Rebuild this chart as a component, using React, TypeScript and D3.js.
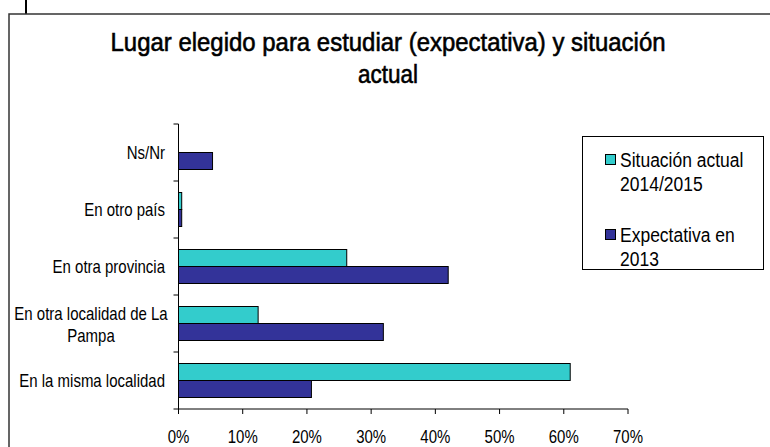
import React from "react";
import * as d3 from "d3";

const categories = ["Ns/Nr", "En otro país", "En otra provincia", "En otra localidad de La Pampa", "En la misma localidad"];
const categoryLines = [["Ns/Nr"], ["En otro país"], ["En otra provincia"], ["En otra localidad de La", "Pampa"], ["En la misma localidad"]];
const situacionActual = [0, 0.5, 26.2, 12.4, 61.0];
const expectativa = [5.3, 0.5, 42.0, 31.9, 20.7];
const seriesNames = [["Situación actual", "2014/2015"], ["Expectativa en", "2013"]];
const seriesColors = ["#33CCCC", "#333399"];
const xTicks = [0, 10, 20, 30, 40, 50, 60, 70];
const titleLines = ["Lugar elegido para estudiar (expectativa) y situación", "actual"];

const FONT = "'Liberation Sans', Arial, sans-serif";

function T({ x, y, size, anchor = "start", sy = 1.2, weight = "normal", children, tl, sw }: any) {
  return (
    <text
      transform={`translate(${x},${y}) scale(1,${sy})`}
      fontFamily={FONT}
      fontSize={size}
      fontWeight={weight}
      textAnchor={anchor}
      fill="#000"
      stroke={sw ? "#000" : undefined}
      strokeWidth={sw}
      textLength={tl}
      lengthAdjust={tl ? "spacingAndGlyphs" : undefined}
    >
      {children}
    </text>
  );
}

export default function App() {
  const x = d3.scaleLinear().domain([0, 70]).range([178.5, 628]);
  const y = d3.scaleBand<string>().domain(categories).range([124, 409]);
  const barH = 17;
  const bw = y.bandwidth();

  return (
    <svg width={770} height={447} style={{ position: "absolute", left: 0, top: 0, background: "#fff" }}>
      <rect x={0} y={0} width={770} height={447} fill="#fff" />
      {/* outer frame */}
      <line x1={26} y1={0} x2={26} y2={14} stroke="#000" strokeWidth={2} />
      <rect x={9} y={14} width={800} height={500} fill="none" stroke="#333" strokeWidth={1.5} />

      {/* title */}
      <T x={388} y={51} size={22} anchor="middle" sy={1.2} sw={0.5} tl={555}>{titleLines[0]}</T>
      <T x={388} y={83} size={22} anchor="middle" sy={1.2} sw={0.5} tl={60}>{titleLines[1]}</T>

      {/* bars */}
      {categories.map((c, i) => {
        const y0 = (y(c) as number) + bw / 2 - barH;
        return (
          <g key={c}>
            {situacionActual[i] > 0 && (
              <rect x={x(0)} y={y0} width={x(situacionActual[i]) - x(0)} height={barH}
                fill={seriesColors[0]} stroke="#000" strokeWidth={1} />
            )}
            {expectativa[i] > 0 && (
              <rect x={x(0)} y={y0 + barH} width={x(expectativa[i]) - x(0)} height={barH}
                fill={seriesColors[1]} stroke="#000" strokeWidth={1} />
            )}
          </g>
        );
      })}

      {/* y axis */}
      <line x1={x(0)} y1={124} x2={x(0)} y2={409} stroke="#000" strokeWidth={1} />
      {[...categories.map((c) => y(c) as number), 409].map((v, i) => (
        <line key={i} x1={x(0) - 5} y1={v} x2={x(0)} y2={v} stroke="#000" strokeWidth={1} />
      ))}
      {/* x axis */}
      <line x1={x(0)} y1={409} x2={x(70)} y2={409} stroke="#000" strokeWidth={1} />
      {xTicks.map((t) => (
        <g key={t}>
          <line x1={x(t)} y1={409} x2={x(t)} y2={414} stroke="#000" strokeWidth={1} />
          <T x={x(t)} y={443} size={15} anchor="middle">{`${t}%`}</T>
        </g>
      ))}

      {/* category labels */}
      {categories.map((c, i) => {
        const lines = categoryLines[i];
        const cy = (y(c) as number) + bw / 2;
        if (lines.length === 1) {
          return <T key={c} x={165} y={cy + 6} size={15} anchor="end">{lines[0]}</T>;
        }
        return (
          <g key={c}>
            <T x={91} y={cy - 4} size={15} anchor="middle">{lines[0]}</T>
            <T x={91} y={cy + 18} size={15} anchor="middle">{lines[1]}</T>
          </g>
        );
      })}

      {/* legend */}
      <rect x={582.5} y={136.5} width={181} height={133} fill="#fff" stroke="#000" strokeWidth={1} />
      {seriesNames.map((s, i) => {
        const by = 154 + i * 75;
        return (
          <g key={i}>
            <rect x={605.5} y={by + 0.5} width={10} height={10} fill={seriesColors[i]} stroke="#000" strokeWidth={1} />
            <T x={620} y={by + 13} size={17.5}>{s[0]}</T>
            <T x={620} y={by + 37} size={17.5}>{s[1]}</T>
          </g>
        );
      })}
    </svg>
  );
}
